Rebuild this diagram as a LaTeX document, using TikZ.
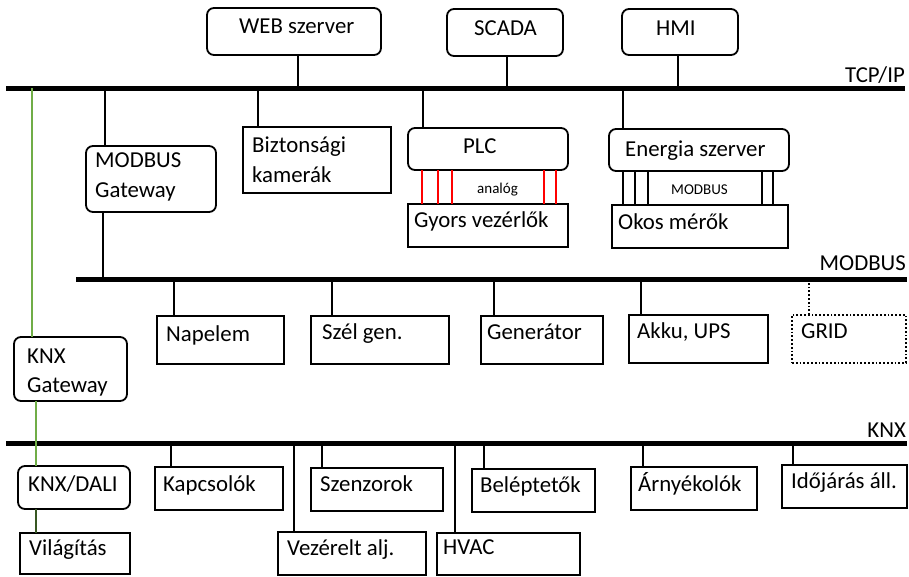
\documentclass[tikz,border=0pt]{standalone}
\usepackage{fontspec}
\setmainfont{Carlito}
\usetikzlibrary{calc}
\definecolor{lgreen}{HTML}{70AD47}
\definecolor{dgreen}{HTML}{385723}
\definecolor{sigred}{HTML}{FF0000}

% box: style, name, x1, y1, x2, y2 (top-left to bottom-right)
\newcommand\bx[6]{\node[#1, minimum width={#5-#3}, minimum height={#6-#4}] (#2) at (#3,#4) {};}
% tap: style, name, anchor on box, x offset, target (bus or box)
\newcommand\tap[5]{\coordinate (#2) at ($(#3)+(#4,0)$);\draw[#1] (#2) -- (#2 |- #5);}

\begin{document}
\begin{tikzpicture}[x=1pt,y=-1pt,
  box/.style={draw, line width=1.8pt, inner sep=0pt, outer sep=0pt, anchor=north west},
  rbox/.style={box, rounded corners=7pt},
  dbox/.style={box, dotted},
  bus/.style={line width=5pt},
  conn/.style={line width=2.6pt},
  sig/.style={line width=2.6pt, sigred},
  sigk/.style={line width=2.6pt},
  knxg/.style={line width=2.6pt, lgreen},
  knxd/.style={line width=2.6pt, dgreen},
  txt/.style={anchor=base west, inner sep=0pt, font=\fontsize{22.8}{27}\selectfont},
  btxt/.style={txt, anchor=base east},
  small/.style={anchor=base west, inner sep=0pt, font=\fontsize{15}{18}\selectfont},
]
\useasboundingbox (0,0) rectangle (909,576);

% buses
\coordinate (tcpL) at (6,88);   \coordinate (tcpR) at (905,88);
\coordinate (mbL)  at (76,279); \coordinate (mbR)  at (907,279);
\coordinate (knxL) at (6,443);  \coordinate (knxR) at (907,443);
\draw[bus] (tcpL) -- (tcpR);
\draw[bus] (mbL) -- (mbR);
\draw[bus] (knxL) -- (knxR);
\node[btxt] (tcplbl) at (905,82) {TCP/IP};
\node[btxt] (mblbl) at (906,270) {MODBUS};
\node[btxt] (knxlbl) at (906,437) {KNX};

% top level
\bx{rbox}{web}{207}{8}{381}{55}
\bx{rbox}{scada}{447}{9}{563}{56}
\bx{rbox}{hmi}{622}{9}{738}{55}
\node[txt] (webt) at (239,33) {WEB szerver};
\node[txt] (scadat) at (474,35) {SCADA};
\node[txt] (hmit) at (656,35) {HMI};
\tap{conn}{webc}{web.south west}{91}{tcpL}
\tap{conn}{scadac}{scada.south west}{60}{tcpL}
\tap{conn}{hmic}{hmi.south west}{56}{tcpL}

% TCP/IP devices
\bx{rbox}{mbgw}{86}{146}{216}{212}
\node[txt] (mbgwt1) at (95,167) {MODBUS};
\node[txt] (mbgwt2) at (95,197) {Gateway};
\tap{conn}{mbgwc}{mbgw.north west}{19}{tcpL}
\tap{conn}{mbgwd}{mbgw.south west}{17}{mbL}

\bx{box}{bk}{243}{127}{391}{193}
\node[txt] (bkt1) at (252,152) {Biztonsági};
\node[txt] (bkt2) at (252,182) {kamerák};
\tap{conn}{bkc}{bk.north west}{15}{tcpL}

\bx{rbox}{plc}{408}{128}{568}{170}
\bx{box}{gyors}{408}{204}{568}{247}
\node[txt] (plct) at (463,153) {PLC};
\node[txt] (gyorst) at (414,227) {Gyors vezérlők};
\node[small] (analogt) at (477,193) {analóg};
\tap{conn}{plcc}{plc.north west}{15}{tcpL}
\tap{sig}{r1}{plc.south west}{14}{gyors.north}
\tap{sig}{r2}{plc.south west}{30}{gyors.north}
\tap{sig}{r3}{plc.south west}{44}{gyors.north}
\tap{sig}{r4}{plc.south west}{136}{gyors.north}
\tap{sig}{r5}{plc.south west}{148}{gyors.north}

\bx{rbox}{esz}{609}{129}{789}{171}
\bx{box}{okos}{612}{205}{788}{248}
\node[txt] (eszt) at (625,156) {Energia szerver};
\node[txt] (okost) at (618,229) {Okos mérők};
\node[small] (mbsmall) at (671,194) {MODBUS};
\tap{conn}{eszc}{esz.north west}{14}{tcpL}
\tap{sigk}{k1}{esz.south west}{14}{okos.north}
\tap{sigk}{k2}{esz.south west}{26}{okos.north}
\tap{sigk}{k3}{esz.south west}{39}{okos.north}
\tap{sigk}{k4}{esz.south west}{153}{okos.north}
\tap{sigk}{k5}{esz.south west}{164}{okos.north}

% MODBUS devices
\bx{box}{nap}{157}{316}{284}{364}
\bx{box}{szel}{311}{316}{449}{364}
\bx{box}{gen}{481}{316}{603}{364}
\bx{box}{akku}{629}{315}{768}{363}
\bx{dbox}{grid}{792}{315}{906}{363}
\node[txt] (napt) at (166,341) {Napelem};
\node[txt] (szelt) at (322,339) {Szél gen.};
\node[txt] (gent) at (487,339) {Generátor};
\node[txt] (akkut) at (637,338) {Akku, UPS};
\node[txt] (gridt) at (801,338) {GRID};
\tap{conn}{napc}{nap.north west}{17}{mbL}
\tap{conn}{szelc}{szel.north west}{21}{mbL}
\tap{conn}{genc}{gen.north west}{13}{mbL}
\tap{conn}{akkuc}{akku.north west}{12}{mbL}
\tap{line width=1.8pt, dotted}{gridc}{grid.north west}{17}{mbL}

% KNX side
\bx{rbox}{knxgw}{14}{337}{127}{401}
\node[txt] (knxgwt1) at (27,363) {KNX};
\node[txt] (knxgwt2) at (27,392) {Gateway};
\tap{knxg}{knxgwc}{knxgw.north west}{18}{tcpL}

\bx{rbox}{dali}{18}{466}{130}{509}
\bx{box}{vilag}{20}{533}{130}{574}
\node[txt] (dalit) at (28,491) {KNX/DALI};
\node[txt] (vilagt) at (29,555) {Világítás};
\tap{knxg}{knxgwd}{knxgw.south west}{22}{dali.north}
\tap{knxd}{dalic}{dali.south west}{18}{vilag.north}

\bx{box}{kapcs}{155}{467}{283}{510}
\bx{box}{vez}{278}{532}{426}{575}
\bx{box}{szenz}{311}{468}{443}{511}
\bx{box}{hvac}{437}{533}{580}{575}
\bx{box}{belep}{472}{469}{595}{512}
\bx{box}{arny}{631}{467}{757}{510}
\bx{box}{idoj}{782}{465}{907}{508}
\node[txt] (kapcst) at (163,491) {Kapcsolók};
\node[txt] (vezt) at (287,555) {Vezérelt alj.};
\node[txt] (szenzt) at (320,491) {Szenzorok};
\node[txt] (hvact) at (443,554) {HVAC};
\node[txt] (belept) at (480,492) {Beléptetők};
\node[txt] (arnyt) at (638,491) {Árnyékolók};
\node[txt] (idojt) at (791,488) {Időjárás áll.};
\tap{conn}{kapcsc}{kapcs.north west}{16}{knxL}
\tap{conn}{vezc}{vez.north west}{16}{knxL}
\tap{conn}{szenzc}{szenz.north west}{11}{knxL}
\tap{conn}{hvacc}{hvac.north west}{18}{knxL}
\tap{conn}{belepc}{belep.north west}{12}{knxL}
\tap{conn}{arnyc}{arny.north west}{12}{knxL}
\tap{conn}{idojc}{idoj.north west}{11}{knxL}
\end{tikzpicture}
\end{document}
